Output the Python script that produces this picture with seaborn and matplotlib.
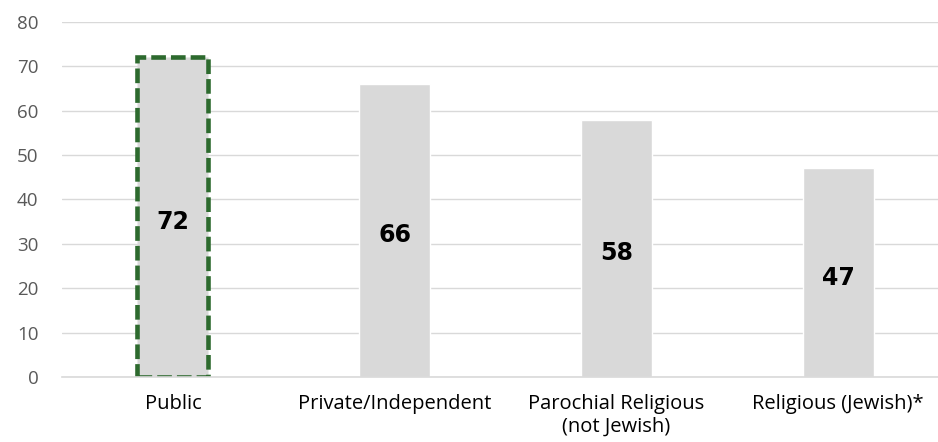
import matplotlib
matplotlib.use("Agg")
import matplotlib.pyplot as plt
import seaborn as sns
import pandas as pd

# chart data
categories = ["Public", "Private/Independent", "Parochial Religious\n(not Jewish)", "Religious (Jewish)*"]
values = [72, 66, 58, 47]

df = pd.DataFrame({"school": categories, "value": values})

sns.set_theme(style="white")
plt.rcParams["font.family"] = ["Open Sans", "DejaVu Sans"]

fig = plt.figure(figsize=(9.38, 4.42), dpi=100)
ax = fig.add_axes([62 / 938, 1 - 377 / 442, 1 - 62 / 938, (377 - 22) / 442])

sns.barplot(data=df, x="school", y="value", color="#D9D9D9", width=0.32,
            saturation=1, ax=ax, zorder=2)

# highlight the first bar with a dashed green outline
first = ax.patches[0]
first.set_edgecolor("#2D6A2E")
first.set_linewidth(3.3)
first.set_linestyle((0, (3.2, 1.1)))

labels = ax.bar_label(ax.containers[0], labels=[str(v) for v in values], label_type="center",
                      fontsize=17, fontweight="bold", color="black", family=["DejaVu Sans"])
for lab in labels:
    lab.xyann = (0, -3.5)

ax.set_ylim(0, 80)
ax.set_xlim(-0.5, 3.45)
ax.set_yticks(range(0, 81, 10))
ax.yaxis.grid(True, color="#D9D9D9", linewidth=1)
ax.set_axisbelow(True)
for s in ["top", "right", "left"]:
    ax.spines[s].set_visible(False)
ax.spines["bottom"].set_color("#D9D9D9")
ax.spines["bottom"].set_linewidth(1.2)
ax.set_xlabel("")
ax.set_ylabel("")
ax.tick_params(axis="y", length=0, pad=17, labelsize=13.5, labelcolor="#595959")
ax.tick_params(axis="x", length=0, pad=12, labelsize=14.5, labelcolor="black")
for t in ax.get_xticklabels():
    t.set_linespacing(1.2)

fig.savefig("out.png", dpi=100)
